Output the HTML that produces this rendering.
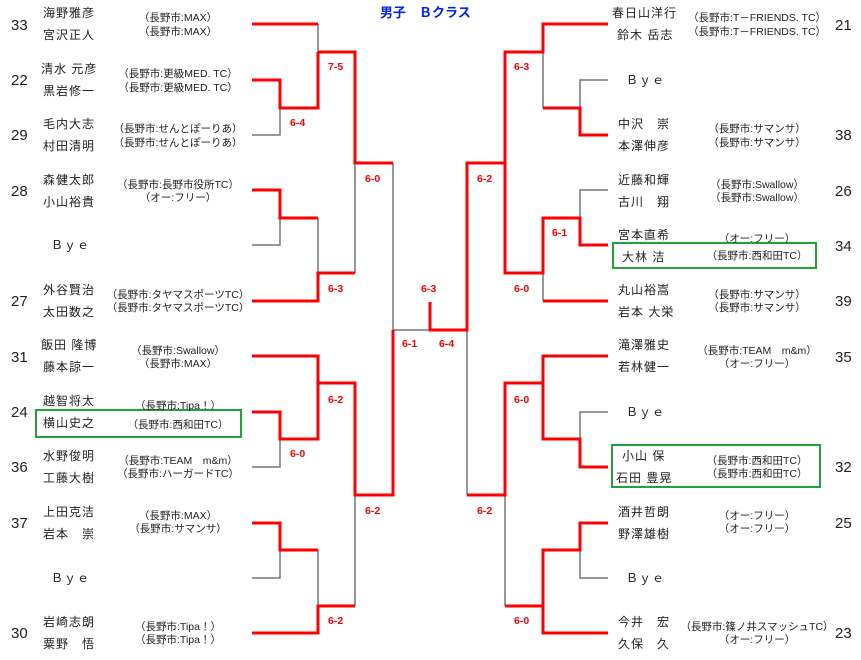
<!DOCTYPE html>
<html><head><meta charset="utf-8"><style>
html,body{margin:0;padding:0;background:#fff;}
svg{display:block;}
text{font-family:"Liberation Sans","Noto Sans CJK JP",sans-serif;fill:#222;}
.n{font-size:12px;letter-spacing:1px;}
.c{font-size:10.5px;text-anchor:middle;}
.s{font-size:15px;}
.l{font-size:10.5px;fill:#f00;font-weight:bold;}
</style></head><body>
<svg width="861" height="660" viewBox="0 0 861 660" xmlns="http://www.w3.org/2000/svg">
<text x="380" y="17" style="font-size:13px;font-weight:bold;fill:#0022ee">男子　Ｂクラス</text>
<g fill="none" stroke="#777" stroke-width="1.5">
<path d="M318 24V52M252 135H280V108M252 245H280V218M318 218V273M355 273V163M393 163V330H430"/>
<path d="M318 356V383M252 467H280V439M252 578H280V550M318 550V606M355 606V495"/>
<path d="M543 24V52M608 80H580V108M543 108V52M505 52V163M608 190H580V218M543 301V273"/>
<path d="M543 356V383M608 412H580V439M467 330V495M505 495V606M608 578H580V550M543 633V606"/>
</g>
<g fill="none" stroke="#f00" stroke-width="3">
<path d="M252 24H318M318 52H355V163H393M252 80H280V108H318V52M252 190H280V218H318M252 301H318V273H355"/>
<path d="M252 356H318V383H355V495H393V330M252 412H280V439H318V383M252 523H280V550H318M252 633H318V606H355"/>
<path d="M430 302V330H467V163H505V52H543V24H608M608 135H580V108H543M608 245H580V218H543V273H505V163M608 301H543"/>
<path d="M608 356H543V383H505V495H467M608 467H580V439H543V383M608 523H580V550H543V606M608 633H543V606H505"/>
</g>
<g class="l">
<text class="l" x="328" y="70">7-5</text><text class="l" x="290" y="126">6-4</text><text class="l" x="365" y="182">6-0</text><text class="l" x="328" y="292">6-3</text>
<text class="l" x="328" y="403">6-2</text><text class="l" x="290" y="457">6-0</text><text class="l" x="365" y="514">6-2</text><text class="l" x="328" y="624">6-2</text>
<text class="l" x="421" y="292">6-3</text><text class="l" x="402" y="347">6-1</text><text class="l" x="439" y="347">6-4</text>
<text class="l" x="514" y="70">6-3</text><text class="l" x="477" y="182">6-2</text><text class="l" x="552" y="236">6-1</text><text class="l" x="514" y="292">6-0</text>
<text class="l" x="514" y="403">6-0</text><text class="l" x="477" y="514">6-2</text><text class="l" x="514" y="624">6-0</text>
</g>
<g fill="none" stroke="#22a33a" stroke-width="2">
<rect x="36" y="410" width="205" height="27"/>
<rect x="613" y="243" width="203" height="25"/>
<rect x="612" y="445" width="208" height="42"/>
</g>
<!-- left -->
<g class="s"><text class="s" x="11" y="30">33</text><text class="s" x="11" y="85">22</text><text class="s" x="11" y="140">29</text><text class="s" x="11" y="196">28</text><text class="s" x="11" y="306">27</text><text class="s" x="11" y="362">31</text><text class="s" x="11" y="417">24</text><text class="s" x="11" y="472">36</text><text class="s" x="11" y="528">37</text><text class="s" x="11" y="638">30</text></g>
<text class="n" x="43" y="17">海野雅彦</text><text class="n" x="43" y="39">宮沢正人</text>
<text class="n" x="41" y="73">清水 元彦</text><text class="n" x="43" y="95">黒岩修一</text>
<text class="n" x="43" y="128">毛内大志</text><text class="n" x="43" y="150">村田清明</text>
<text class="n" x="43" y="184">森健太郎</text><text class="n" x="43" y="206">小山裕貴</text>
<text class="n" x="51" y="249">Ｂｙｅ</text>
<text class="n" x="43" y="294">外谷賢治</text><text class="n" x="43" y="316">太田数之</text>
<text class="n" x="41" y="349">飯田 隆博</text><text class="n" x="43" y="371">藤本諒一</text>
<text class="n" x="43" y="405">越智将太</text><text class="n" x="43" y="427">横山史之</text>
<text class="n" x="43" y="460">水野俊明</text><text class="n" x="43" y="482">工藤大樹</text>
<text class="n" x="43" y="516">上田克洁</text><text class="n" x="43" y="538">岩本　崇</text>
<text class="n" x="51" y="582">Ｂｙｅ</text>
<text class="n" x="43" y="626">岩崎志朗</text><text class="n" x="43" y="648">粟野　悟</text>
<g>
<text class="c" x="178" y="21">（長野市:MAX）</text><text class="c" x="178" y="35">（長野市:MAX）</text>
<text class="c" x="178" y="77">（長野市:更級MED. TC）</text><text class="c" x="178" y="91">（長野市:更級MED. TC）</text>
<text class="c" x="178" y="132">（長野市:せんとぽーりあ）</text><text class="c" x="178" y="146">（長野市:せんとぽーりあ）</text>
<text class="c" x="178" y="188">（長野市:長野市役所TC）</text><text class="c" x="178" y="201">（オー:フリー）</text>
<text class="c" x="178" y="298">（長野市:タヤマスポーツTC）</text><text class="c" x="178" y="311">（長野市:タヤマスポーツTC）</text>
<text class="c" x="178" y="354">（長野市:Swallow）</text><text class="c" x="178" y="367">（長野市:MAX）</text>
<text class="c" x="178" y="409">（長野市:Tipa！）</text><text class="c" x="178" y="428">（長野市:西和田TC）</text>
<text class="c" x="178" y="464">（長野市:TEAM　m&amp;m）</text><text class="c" x="178" y="477">（長野市:ハーガードTC）</text>
<text class="c" x="178" y="519">（長野市:MAX）</text><text class="c" x="178" y="532">（長野市:サマンサ）</text>
<text class="c" x="178" y="630">（長野市:Tipa！）</text><text class="c" x="178" y="643">（長野市:Tipa！）</text>
</g>
<!-- right -->
<g><text class="s" x="835" y="30">21</text><text class="s" x="835" y="140">38</text><text class="s" x="835" y="196">26</text><text class="s" x="835" y="251">34</text><text class="s" x="835" y="306">39</text><text class="s" x="835" y="362">35</text><text class="s" x="835" y="472">32</text><text class="s" x="835" y="528">25</text><text class="s" x="835" y="638">23</text></g>
<text class="n" x="612" y="17">春日山洋行</text><text class="n" x="617" y="39">鈴木 岳志</text>
<text class="n" x="626" y="84">Ｂｙｅ</text>
<text class="n" x="618" y="128">中沢　崇</text><text class="n" x="618" y="150">本澤伸彦</text>
<text class="n" x="618" y="184">近藤和輝</text><text class="n" x="618" y="206">古川　翔</text>
<text class="n" x="618" y="239">宮本直希</text><text class="n" x="622" y="261">大林 洁</text>
<text class="n" x="618" y="294">丸山裕嵩</text><text class="n" x="618" y="316">岩本 大栄</text>
<text class="n" x="618" y="349">滝澤雅史</text><text class="n" x="618" y="371">若林健一</text>
<text class="n" x="626" y="416">Ｂｙｅ</text>
<text class="n" x="622" y="460">小山 保</text><text class="n" x="616" y="482">石田 豊晃</text>
<text class="n" x="618" y="516">酒井哲朗</text><text class="n" x="618" y="538">野澤雄樹</text>
<text class="n" x="626" y="582">Ｂｙｅ</text>
<text class="n" x="618" y="626">今井　宏</text><text class="n" x="618" y="648">久保　久</text>
<g>
<text class="c" x="757" y="21">（長野市:T－FRIENDS. TC）</text><text class="c" x="757" y="35">（長野市:T－FRIENDS. TC）</text>
<text class="c" x="757" y="132">（長野市:サマンサ）</text><text class="c" x="757" y="146">（長野市:サマンサ）</text>
<text class="c" x="757" y="188">（長野市:Swallow）</text><text class="c" x="757" y="201">（長野市:Swallow）</text>
<text class="c" x="757" y="242">（オー:フリー）</text><text class="c" x="757" y="259">（長野市:西和田TC）</text>
<text class="c" x="757" y="298">（長野市:サマンサ）</text><text class="c" x="757" y="311">（長野市:サマンサ）</text>
<text class="c" x="757" y="354">（長野市:TEAM　m&amp;m）</text><text class="c" x="757" y="367">（オー:フリー）</text>
<text class="c" x="757" y="464">（長野市:西和田TC）</text><text class="c" x="757" y="477">（長野市:西和田TC）</text>
<text class="c" x="757" y="519">（オー:フリー）</text><text class="c" x="757" y="532">（オー:フリー）</text>
<text class="c" x="757" y="630">（長野市:篠ノ井スマッシュTC）</text><text class="c" x="757" y="643">（オー:フリー）</text>
</g>
</svg>
</body></html>
